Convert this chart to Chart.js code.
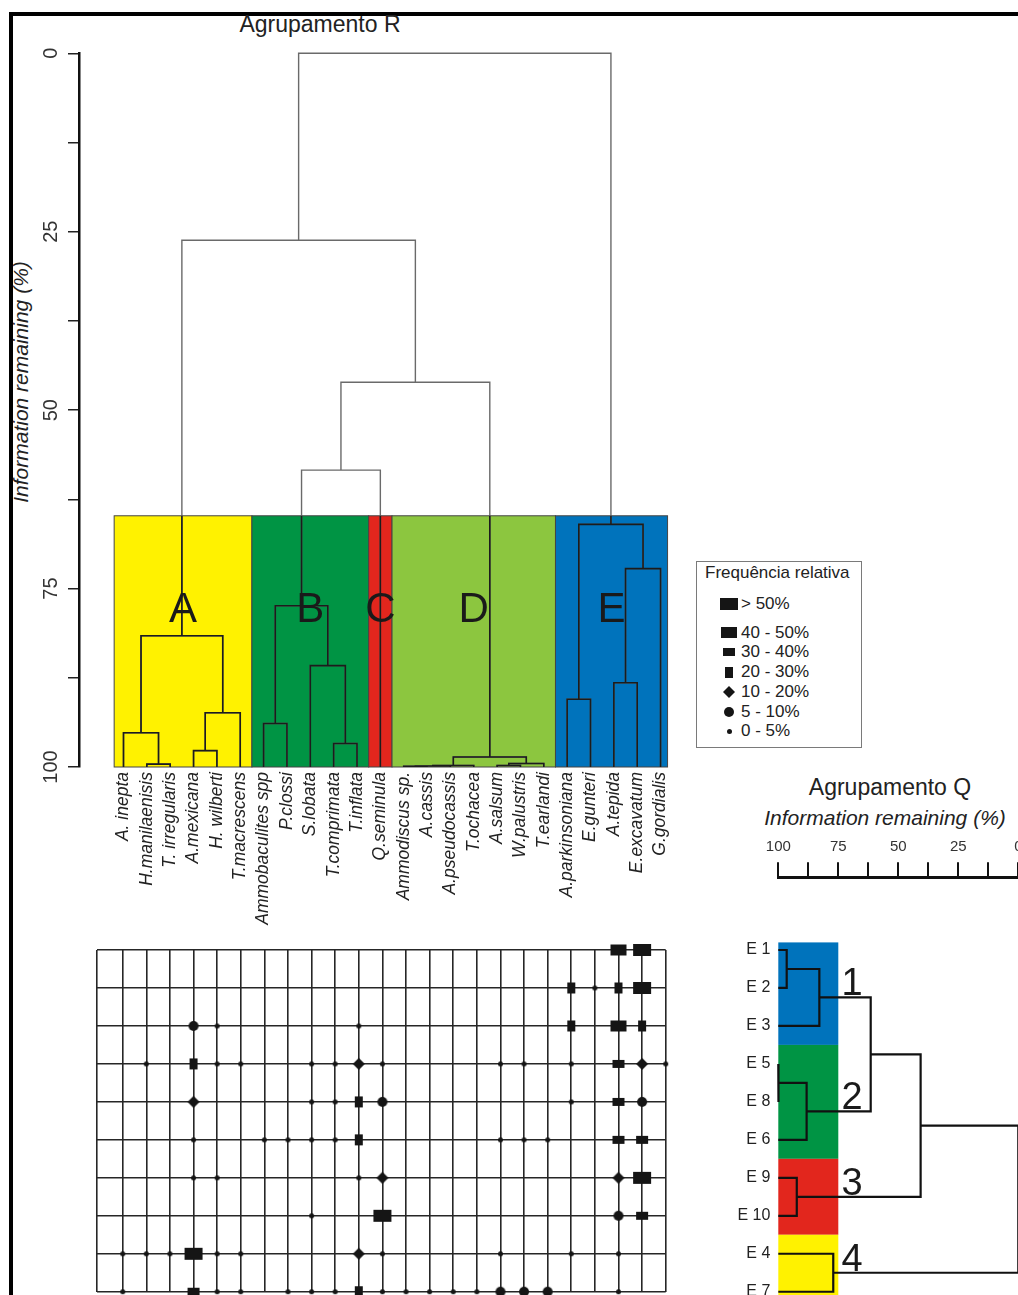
<!DOCTYPE html>
<html>
<head>
<meta charset="utf-8">
<script src="https://cdn.jsdelivr.net/npm/chart.js@4.4.1/dist/chart.umd.min.js"></script>
<style>
html, body { margin: 0; padding: 0; background: #fff; overflow: hidden; }
body { width: 1018px; height: 1295px; position: relative; font-family: "Liberation Sans", Arial, sans-serif; color: #222; }
canvas { position: absolute; }
.txt { position: absolute; white-space: nowrap; text-align: center; }
#frameL { position: absolute; left: 9px; top: 12px; width: 4px; height: 1290px; background: #000; }
#frameT { position: absolute; left: 9px; top: 12px; width: 1015px; height: 4px; background: #000; }
#titleR { left: 220px; top: 13px; width: 200px; font-size: 23px; line-height: 23px; }
#yTitleR { left: -129px; top: 370px; width: 300px; height: 24px; line-height: 24px; font-size: 21px; font-style: italic; transform: rotate(-90deg); }
#titleQ { left: 790px; top: 776px; width: 200px; font-size: 23px; line-height: 23px; }
#subQ { left: 735px; top: 807px; width: 300px; font-size: 21px; line-height: 21px; font-style: italic; }
#legend { position: absolute; left: 696px; top: 561px; width: 166px; height: 187px; border: 1px solid #7a7a7a; box-sizing: border-box; }
#legend .lt { position: absolute; left: 8px; top: 1px; font-size: 17px; line-height: 20px; }
#legend .row { position: absolute; left: 0; height: 20px; width: 160px; }
#legend .sym { position: absolute; left: 22px; top: 0; width: 20px; height: 20px; display: flex; align-items: center; justify-content: center; }
#legend .lab { position: absolute; left: 44px; top: 0; font-size: 17px; line-height: 20px; }
</style>
</head>
<body>
<div id="frameL"></div>
<div id="frameT"></div>
<div class="txt" id="titleR">Agrupamento R</div>
<div class="txt" id="yTitleR">Information remaining (%)</div>
<div class="txt" id="titleQ">Agrupamento Q</div>
<div class="txt" id="subQ">Information remaining (%)</div>
<div id="legend"><div class="lt">Frequência relativa</div></div>
<canvas id="chartR" width="700" height="940" style="left:0;top:0"></canvas>
<canvas id="chartGrid" width="610" height="380" style="left:80px;top:925px"></canvas>
<canvas id="chartQ" width="330" height="480" style="left:700px;top:820px"></canvas>
<script>
// ---- Agrupamento R (species) ----
const species = ['A. inepta', 'H.manilaenisis', 'T. irregularis', 'A.mexicana', 'H. wilberti', 'T.macrescens',
    'Ammobaculites spp', 'P.clossi', 'S.lobata', 'T.comprimata', 'T.inflata', 'Q.seminula',
    'Ammodiscus sp.', 'A.cassis', 'A.pseudocassis', 'T.ochacea', 'A.salsum', 'W.palustris', 'T.earlandi',
    'A.parkinsoniana', 'E.gunteri', 'A.tepida', 'E.excavatum', 'G.gordialis'];
// hclust style: negative = leaf (1-based), positive = earlier merge (1-based)
const rMerge = [[-2, -3], [-1, 1], [-4, -5], [3, -6], [2, 4], [-7, -8], [-10, -11], [-9, 7], [6, 8], [9, -12],
    [-13, -14], [11, -15], [12, -16], [-17, -18], [14, -19], [13, 15], [10, 16], [5, 17],
    [-20, -21], [-22, -23], [20, -24], [19, 21], [18, 22]];
const rHeight = [99.6, 95.2, 97.7, 92.4, 81.6, 93.9, 96.7, 85.8, 77.4, 58.4,
    99.9, 99.85, 99.8, 99.8, 99.5, 98.6, 46.1, 26.2,
    90.5, 88.2, 72.2, 66.0, 0];
const rGroups = ['A', 'B', 'C', 'D', 'E'];
const rGroupFirst = [0, 6, 11, 12, 19];
const rGroupLast = [5, 10, 11, 18, 23];
const rGroupColors = ['#fff200', '#009444', '#e2261d', '#8cc63f', '#0073bc'];
const rBoxTop = 64.8;

// ---- Agrupamento Q (stations) ----
const stations = ['E 1', 'E 2', 'E 3', 'E 5', 'E 8', 'E 6', 'E 9', 'E 10', 'E 4', 'E 7'];
const qMerge = [[-1, -2], [1, -3], [-4, -5], [3, -6], [2, 4], [-7, -8], [5, 6], [-9, -10], [7, 8]];
const qHeight = [96.5, 82.9, 99.9, 88.2, 61.5, 92.3, 40.7, 77.1, 0];
const qGroups = ['1', '2', '3', '4'];
const qGroupFirst = [0, 3, 6, 8];
const qGroupLast = [2, 5, 7, 9];
const qGroupNode = [2, 4, 6, 8];
const qGroupColors = ['#0073bc', '#009444', '#e2261d', '#fff200'];
const qTicks = [100, 75, 50, 25, 0];

// ---- Frequência relativa, one row per station (Q order), one char per species ----
// 6 >50%, 5 40-50%, 4 30-40%, 3 20-30%, 2 10-20%, 1 5-10%, 0 0-5%, . absent
const freqClasses = ['> 50%', '40 - 50%', '30 - 40%', '20 - 30%', '10 - 20%', '5 - 10%', '0 - 5%'];
const freqRows = [
    '.....................56.',
    '...................3036.',
    '...10.....0........3.53.',
    '.0.300..0020....00.0.420',
    '...2....0031.......0.41.',
    '...0..00003.....000..44.',
    '...00.....02.........26.',
    '........0..6.........14.',
    '000600....20....0..0.0..',
    '0..400.000300000111..0..'
];

// layout (pixels)
const R_TOP = 53.3, R_BOTTOM = 767, R_LEFT = 79, R_RIGHT = 690, R_LEAF0 = 123.5, R_STEP = 23.35;
const G_LEFT = 97.3, G_COL0 = 122.7, G_RIGHT = 665.7, G_TOP = 950, G_ROW = 37.97;
const Q_LEFT = 778.3, Q_RIGHT = 1018.3, Q_AXIS = 877.3;

Chart.defaults.font.family = '"Liberation Sans", Arial, sans-serif';
Chart.defaults.color = '#222';

function buildTree(merge, height) {
    const nodes = [];
    merge.forEach((m, k) => {
        const ch = m.map(c => c < 0 ? {p: -c - 1, h: 100} : nodes[c - 1]);
        nodes.push({p: (ch[0].p + ch[1].p) / 2, h: height[k], ch: ch});
    });
    return nodes;
}

const rNodes = buildTree(rMerge, rHeight);
const rPath = [];
rNodes.forEach(n => {
    const [a, b] = n.ch;
    rPath.push({x: a.p, y: a.h}, {x: a.p, y: n.h}, {x: b.p, y: n.h}, {x: b.p, y: b.h}, {x: null, y: null});
});

const qNodes = buildTree(qMerge, qHeight);
const qPath = [];
qNodes.forEach(n => {
    const [a, b] = n.ch;
    qPath.push({x: a.h, y: a.p}, {x: n.h, y: a.p}, {x: n.h, y: b.p}, {x: b.h, y: b.p}, {x: null, y: null});
});

function makeSymbol(code) {
    const shape = {'6': ['rect', 18, 12], '5': ['rect', 16, 11], '4': ['rect', 12, 8], '3': ['rect', 8, 11],
        '2': ['diamond', 12, 12], '1': ['circle', 10, 10], '0': ['circle', 5, 5]}[code];
    const c = document.createElement('canvas');
    c.width = shape[1] + 2;
    c.height = shape[2] + 2;
    const g = c.getContext('2d');
    g.fillStyle = '#151515';
    if (shape[0] === 'rect') {
        g.fillRect(1, 1, shape[1], shape[2]);
    } else if (shape[0] === 'diamond') {
        g.beginPath();
        g.moveTo(c.width / 2, 1); g.lineTo(c.width - 1, c.height / 2);
        g.lineTo(c.width / 2, c.height - 1); g.lineTo(1, c.height / 2);
        g.closePath(); g.fill();
    } else {
        g.beginPath();
        g.arc(c.width / 2, c.height / 2, shape[1] / 2, 0, Math.PI * 2);
        g.fill();
    }
    return c;
}

const baseOpts = {
    responsive: false,
    devicePixelRatio: 1,
    animation: false,
    events: [],
    plugins: {legend: {display: false}, tooltip: {enabled: false}}
};

// ---------- chart R ----------
const rBoxes = {
    id: 'rBoxes',
    beforeDatasetsDraw(chart) {
        const {ctx, scales: {x, y}} = chart;
        const top = y.getPixelForValue(rBoxTop), bottom = y.getPixelForValue(100);
        ctx.save();
        rGroups.forEach((g, i) => {
            const l = x.getPixelForValue(rGroupFirst[i] === 0 ? -0.4 : rGroupFirst[i] - 0.5);
            const r = x.getPixelForValue(rGroupLast[i] === species.length - 1 ? rGroupLast[i] + 0.3 : rGroupLast[i] + 0.5);
            ctx.fillStyle = rGroupColors[i];
            ctx.fillRect(l, top, r - l, bottom - top);
            ctx.strokeStyle = '#454545';
            ctx.lineWidth = 1;
            ctx.strokeRect(l, top, r - l, bottom - top);
        });
        ctx.restore();
    },
    afterDatasetsDraw(chart) {
        const {ctx, scales: {x, y}} = chart;
        ctx.save();
        ctx.fillStyle = '#1a1a1a';
        ctx.font = '42px "Liberation Sans", Arial, sans-serif';
        ctx.textAlign = 'center';
        ctx.textBaseline = 'alphabetic';
        rGroups.forEach((g, i) => {
            const lo = rGroupFirst[i] === 0 ? -0.4 : rGroupFirst[i] - 0.5;
            const hi = rGroupLast[i] === species.length - 1 ? rGroupLast[i] + 0.3 : rGroupLast[i] + 0.5;
            ctx.fillText(g, x.getPixelForValue((lo + hi) / 2), y.getPixelForValue(79.7));
        });
        ctx.restore();
    }
};

const rXmin = -(R_LEAF0 - R_LEFT) / R_STEP;
const rXmax = rXmin + (R_RIGHT - R_LEFT) / R_STEP;

new Chart(document.getElementById('chartR'), {
    type: 'scatter',
    data: {
        datasets: [{
            data: rPath, showLine: true, borderColor: '#1c1c1c', borderWidth: 1.6, pointRadius: 0,
            clip: {left: 10, right: 10, bottom: 5, top: -(rBoxTop / 100) * (R_BOTTOM - R_TOP)}
        }, {
            data: rPath, showLine: true, borderColor: '#6a6a6a', borderWidth: 1.4, pointRadius: 0, clip: false
        }]
    },
    options: Object.assign({}, baseOpts, {
        layout: {padding: {top: R_TOP, left: 0, right: 700 - R_RIGHT, bottom: 0}},
        scales: {
            x: {
                type: 'linear', min: rXmin, max: rXmax,
                afterBuildTicks: s => { s.ticks = species.map((_, i) => ({value: i})); },
                afterFit: s => { s.height = 940 - R_BOTTOM; },
                grid: {display: false, drawTicks: false},
                border: {display: false},
                ticks: {
                    autoSkip: false, minRotation: 90, maxRotation: 90, padding: 5, color: '#222',
                    font: {size: 17.5, style: 'italic'},
                    callback: v => species[v]
                }
            },
            y: {
                type: 'linear', reverse: true, min: 0, max: 100,
                afterFit: s => { s.width = R_LEFT; },
                grid: {drawOnChartArea: false, tickLength: 11, color: '#222', lineWidth: 1.5},
                border: {color: '#111', width: 2.5},
                ticks: {
                    stepSize: 12.5, autoSkip: false, minRotation: 90, maxRotation: 90,
                    crossAlign: 'center', padding: 0, color: '#333', font: {size: 20},
                    callback: v => v % 25 === 0 ? String(v) : ''
                }
            }
        }
    }),
    plugins: [rBoxes]
});

// ---------- frequency grid ----------
const gridSets = freqClasses.map((label, ci) => {
    const code = String(6 - ci);
    const pts = [];
    freqRows.forEach((row, r) => {
        row.split('').forEach((c, s) => { if (c === code) pts.push({x: s, y: r}); });
    });
    return {label: label, data: pts, pointStyle: makeSymbol(code), pointRadius: 5, clip: false};
});

const gStep = (G_RIGHT - G_COL0) / (species.length - 1);
const gXmin = -(G_COL0 - G_LEFT) / gStep;

new Chart(document.getElementById('chartGrid'), {
    type: 'scatter',
    data: {datasets: gridSets},
    options: Object.assign({}, baseOpts, {
        layout: {padding: {left: G_LEFT - 80, top: G_TOP - 925, right: 690 - G_RIGHT, bottom: 1305 - (G_TOP + 9 * G_ROW)}},
        scales: {
            x: {
                type: 'linear', min: gXmin, max: species.length - 1,
                afterBuildTicks: s => { s.ticks = [gXmin].concat(species.map((_, i) => i)).map(v => ({value: v})); },
                afterFit: s => { s.height = 0; s.paddingLeft = 0; s.paddingRight = 0; },
                ticks: {display: false},
                grid: {color: '#262626', lineWidth: 1.6, drawTicks: false},
                border: {display: false}
            },
            y: {
                type: 'linear', reverse: true, min: 0, max: stations.length - 1,
                afterBuildTicks: s => { s.ticks = stations.map((_, i) => ({value: i})); },
                afterFit: s => { s.width = 0; s.paddingTop = 0; s.paddingBottom = 0; },
                ticks: {display: false},
                grid: {color: '#262626', lineWidth: 1.4, drawTicks: false},
                border: {display: false}
            }
        }
    })
});

// ---------- chart Q ----------
const qBoxes = {
    id: 'qBoxes',
    beforeDatasetsDraw(chart) {
        const {ctx, scales: {x, y}} = chart;
        const l = x.getPixelForValue(100), r = x.getPixelForValue(75);
        ctx.save();
        qGroups.forEach((g, i) => {
            const t = y.getPixelForValue(qGroupFirst[i] === 0 ? -0.2 : qGroupFirst[i] - 0.5);
            const b = y.getPixelForValue(qGroupLast[i] === stations.length - 1 ? qGroupLast[i] + 0.4 : qGroupLast[i] + 0.5);
            ctx.fillStyle = qGroupColors[i];
            ctx.fillRect(l, t, r - l, b - t);
        });
        ctx.restore();
    },
    afterDatasetsDraw(chart) {
        const {ctx, scales: {x, y}} = chart;
        ctx.save();
        ctx.fillStyle = '#1a1a1a';
        ctx.font = '38px "Liberation Sans", Arial, sans-serif';
        ctx.textAlign = 'center';
        ctx.textBaseline = 'alphabetic';
        qGroups.forEach((g, i) => {
            const node = qNodes[qGroupNode[i] - 1];
            ctx.fillText(g, x.getPixelForValue(69.3), y.getPixelForValue(node.p) - 2);
        });
        ctx.restore();
    }
};

new Chart(document.getElementById('chartQ'), {
    type: 'scatter',
    data: {
        datasets: [{data: qPath, showLine: true, borderColor: '#111', borderWidth: 2.2, pointRadius: 0, clip: false}]
    },
    options: Object.assign({}, baseOpts, {
        layout: {padding: {top: 0, left: 0, right: 330 - (Q_RIGHT - 700), bottom: 0}},
        scales: {
            x: {
                type: 'linear', position: 'top', reverse: true, min: 0, max: 100,
                afterFit: s => { s.height = Q_AXIS - 820; s.paddingLeft = 0; s.paddingRight = 0; },
                grid: {drawOnChartArea: false, drawTicks: true, tickLength: 15, color: '#111', lineWidth: 2},
                border: {display: true, color: '#111', width: 3},
                ticks: {
                    stepSize: 12.5, autoSkip: false, maxRotation: 0, padding: 6, color: '#333',
                    font: {size: 15},
                    callback: v => qTicks.includes(v) ? String(v) : ''
                }
            },
            y: {
                type: 'linear', reverse: true,
                min: (Q_AXIS - G_TOP) / G_ROW, max: (1300 - G_TOP) / G_ROW,
                afterBuildTicks: s => { s.ticks = stations.map((_, i) => ({value: i})); },
                afterFit: s => { s.width = Q_LEFT - 700; s.paddingTop = 0; s.paddingBottom = 0; },
                grid: {display: false, drawTicks: false},
                border: {display: false},
                ticks: {padding: 8, color: '#222', font: {size: 16}, callback: v => stations[v]}
            }
        }
    }),
    plugins: [qBoxes]
});

// ---------- legend ----------
const legend = document.getElementById('legend');
freqClasses.forEach((label, ci) => {
    const row = document.createElement('div');
    row.className = 'row';
    row.style.top = (ci === 0 ? 32 : 41 + 19.7 * ci) + 'px';
    const sym = document.createElement('div');
    sym.className = 'sym';
    sym.appendChild(makeSymbol(String(6 - ci)));
    sym.firstChild.style.position = 'static';
    const lab = document.createElement('div');
    lab.className = 'lab';
    lab.textContent = label;
    row.appendChild(sym);
    row.appendChild(lab);
    legend.appendChild(row);
});
</script>
</body>
</html>
